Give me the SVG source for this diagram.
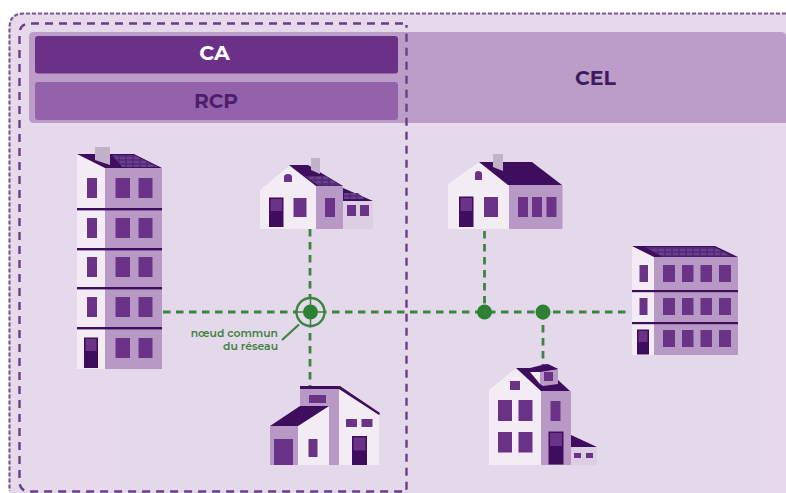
<svg xmlns="http://www.w3.org/2000/svg" width="786" height="493" viewBox="0 0 786 493">
<defs><pattern id="grid" width="7" height="4" patternUnits="userSpaceOnUse"><rect width="7" height="4" fill="#4f2272"/><rect x=".6" y=".6" width="5.800" height="2.800" fill="#68408c"/></pattern></defs>
<style>
text{font-family:"Montserrat","Lato","Liberation Sans",sans-serif;font-weight:700;text-anchor:middle}
.w{fill:#f3ecf5}.m{fill:#b899c6}.l{fill:#dccfe4}.d{fill:#3f0d5e}.p{fill:#6b3388}.c{fill:#c2b2c9}.s{fill:url(#grid)}
.g{fill:none;stroke:#3f8241;stroke-width:2.800;stroke-dasharray:7.500 5.500}
.n{fill:#2d8034}.lab{font-size:10.800px;font-weight:600;fill:#3f8241;text-anchor:end}
</style>
<rect width="786" height="493" fill="#fff"/>
<path d="M786 13H24Q9 13 9 28V493H786Z" fill="#e6d9eb"/>
<rect x="120" y="135" width="640" height="358" fill="#e0d8ea" opacity=".55"/>
<path id="border-outer" d="M786 13.500H24Q9.500 13.500 9.500 28V491" fill="none" stroke="#7b5a8f" stroke-width="2.200" stroke-dasharray="4 2"/>
<g id="cel"><path d="M34 32H781Q786 32 786 37V123H34Q29 123 29 118V37Q29 32 34 32Z" fill="#bb9dc8"/><text x="595.500" y="84.500" style="font-size:20.500px" fill="#3f1a60">CEL</text></g>
<g id="ca"><rect x="35" y="36" width="363" height="37.500" rx="3" fill="#6b3087"/><text x="214.500" y="60" style="font-size:20.700px" fill="#fff">CA</text></g>
<g id="rcp"><rect x="35" y="82" width="363" height="38" rx="3" fill="#9462aa"/><text x="216" y="107.500" style="font-size:20.200px" fill="#4b1f6e">RCP</text></g>
<path id="border-ca" d="M403 23.500H30Q19.500 23.500 19.500 34V481Q19.500 491.500 30 491.500H406.500V25" fill="none" stroke="#6a3f85" stroke-width="2.400" stroke-dasharray="8 6"/>
<g id="connectors">
<path class="g" d="M163 312H630"/>
<path class="g" d="M310 229V386"/>
<path class="g" d="M484.500 231V312"/>
<path class="g" d="M543 312V365"/>
<path d="M282 340L299 324.500" fill="none" stroke="#3f8241" stroke-width="2.300"/>
</g>
<g id="node-common"><circle cx="310.500" cy="312" r="14" fill="#e2dbea" stroke="#3f8241" stroke-width="2.400"/><path d="M296.500 312H324.500M310.500 298V326" stroke="#3f8241" stroke-width="1.500"/><circle cx="310.500" cy="312" r="7.500" class="n"/>
<text x="278" y="337" class="lab">nœud commun</text><text x="278" y="350" class="lab">du réseau</text></g>
<g id="node-2"><circle cx="484.500" cy="312" r="7.500" class="n"/></g>
<g id="node-3"><circle cx="543" cy="312" r="7.500" class="n"/></g>
<g id="tower">
<path class="w" d="M77 154V369H105V168Z"/>
<rect class="m" x="105" y="168" width="57" height="201"/>
<path class="d" d="M77 154H134L162 168H105Z"/><path class="s" d="M112 155H134L158 167H122Z"/>
<path class="c" d="M95 147H110V165L95 160Z"/>
<g class="d"><rect x="77" y="208" width="85" height="2.400"/><rect x="77" y="248" width="85" height="2.400"/><rect x="77" y="287" width="85" height="2.400"/><rect x="77" y="327" width="85" height="2.400"/></g>
<g class="p">
<rect x="87" y="178" width="10" height="20"/><rect x="115.500" y="178" width="14.500" height="20"/><rect x="138.500" y="178" width="14" height="20"/>
<rect x="87" y="218" width="10" height="20"/><rect x="115.500" y="218" width="14.500" height="20"/><rect x="138.500" y="218" width="14" height="20"/>
<rect x="87" y="257" width="10" height="20"/><rect x="115.500" y="257" width="14.500" height="20"/><rect x="138.500" y="257" width="14" height="20"/>
<rect x="87" y="297" width="10" height="20"/><rect x="115.500" y="297" width="14.500" height="20"/><rect x="138.500" y="297" width="14" height="20"/>
<rect x="115.500" y="338" width="14.500" height="20"/><rect x="138.500" y="338" width="14" height="20"/></g>
<rect class="d" x="84" y="337.500" width="14" height="30.500"/><rect class="p" x="85.500" y="339" width="11" height="12"/>
</g>
<g id="house-1">
<path class="l" d="M343 188L373 201V229H343Z"/><path class="m" d="M316 186H343V229H316Z"/>
<path class="w" d="M260 190L289 166L316 186V229H260Z"/>
<path class="d" d="M289 165H308L343 186H316Z"/><path class="s" d="M305 176H326L341 185.500H318Z"/>
<path class="d" d="M343 188L373 201H343Z"/><path class="s" d="M344 193H358L365 199H344Z"/>
<path class="c" d="M311 158H320V174L311 170Z"/>
<path class="p" d="M284 182V177Q284 174 288 174Q292 174 292 177V182Z"/>
<rect class="d" x="269" y="197.500" width="14.500" height="29.500"/><rect class="p" x="270.500" y="199" width="11.500" height="12"/>
<rect class="p" x="293.500" y="198" width="13" height="19"/><rect class="p" x="325" y="198" width="10" height="19"/>
<rect class="p" x="347" y="205" width="9" height="11"/><rect class="p" x="360" y="205" width="9" height="11"/>
</g>
<g id="house-2">
<path class="m" d="M508 185H562.500V229H508Z"/><path class="w" d="M448 184L479 162L509 185V229H448Z"/>
<path class="d" d="M479 162H532L562 185H508Z"/><path class="c" d="M493 154H503V171L493 167Z"/>
<path class="p" d="M475 180V174Q475 171 478 171Q482 171 482 174V180Z"/>
<rect class="d" x="459" y="196.500" width="14.500" height="30.500"/><rect class="p" x="460.500" y="198" width="11.500" height="13"/>
<rect class="p" x="484" y="197" width="14" height="20"/><rect class="p" x="518" y="197" width="10" height="20"/><rect class="p" x="532" y="197" width="10" height="20"/><rect class="p" x="546.500" y="197" width="10" height="20"/>
</g>
<g id="building-right">
<path class="m" d="M654 257H738V355H654Z"/><path class="w" d="M632 246L654 257V355H632Z"/>
<path class="d" d="M632 246H715L738 257H654Z"/><path class="s" d="M645 247H714L733 256.500H662Z"/>
<g class="d"><rect x="632" y="290" width="106" height="2.200"/><rect x="632" y="322" width="106" height="2.200"/></g>
<g class="p">
<rect x="639.500" y="265" width="8.500" height="17"/><rect x="639.500" y="298" width="8" height="17"/>
<rect x="663" y="265" width="12" height="17"/><rect x="682" y="265" width="11.500" height="17"/><rect x="700.500" y="265" width="11.500" height="17"/><rect x="719" y="265" width="12" height="17"/>
<rect x="663" y="298" width="12" height="17"/><rect x="682" y="298" width="11.500" height="17"/><rect x="700.500" y="298" width="11.500" height="17"/><rect x="719" y="298" width="12" height="17"/>
<rect x="663" y="330" width="12" height="17"/><rect x="682" y="330" width="11.500" height="17"/><rect x="700.500" y="330" width="11.500" height="17"/><rect x="719" y="330" width="12" height="17"/></g>
<rect class="d" x="637" y="329.500" width="12" height="25"/><rect class="p" x="638.500" y="331" width="9" height="11"/>
</g>
<g id="house-3">
<path class="d" d="M571 435L597 447H571Z"/><rect class="l" x="571" y="447" width="26" height="18"/>
<rect class="p" x="574" y="453" width="7" height="5"/><rect class="p" x="586" y="453" width="7" height="5"/>
<path class="m" d="M541 391H571V465H541Z"/><path class="w" d="M489 390L516 368L541 391V465H489Z"/>
<path class="d" d="M516 368H530L546 364L558 369L558 380L570 391H541Z"/>
<path class="w" d="M530 372L540 372V384Z"/><path class="m" d="M540 371.500L558 369V384L543 386L540 384Z"/>
<path class="d" d="M530 372L548 364L558 369L540 372Z"/>
<rect class="p" x="544" y="372" width="9" height="9"/>
<g class="p"><rect x="510" y="381" width="10" height="9"/><rect x="498" y="400" width="14" height="21"/><rect x="518.500" y="400" width="14" height="21"/><rect x="498" y="432" width="14" height="20.500"/><rect x="518.500" y="432" width="14" height="20.500"/><rect x="550.500" y="401" width="10" height="20"/></g>
<rect class="d" x="548.500" y="431.500" width="15" height="33"/><rect class="p" x="550" y="433" width="12" height="13"/>
</g>
<g id="house-4">
<path class="m" d="M300 387H340V465H300Z"/><path class="w" d="M339 389L379 414V465H339Z"/>
<path class="d" d="M300 386H340L380 413L379 415L339 389H300Z"/>
<path class="m" d="M270 426H298V465H270Z"/><path class="w" d="M298 426L329 406V465H298Z"/>
<path class="d" d="M270 426L300 406H329L298 426Z"/>
<g class="p"><rect x="309" y="395" width="17" height="8"/><rect x="274" y="439" width="19" height="26"/><rect x="308.500" y="439" width="9" height="18"/><rect x="346" y="419" width="11" height="8"/><rect x="361.500" y="419" width="11" height="8"/></g>
<rect class="d" x="352" y="436" width="15" height="29"/><rect class="p" x="353.500" y="437.500" width="12" height="13"/>
</g>
</svg>
